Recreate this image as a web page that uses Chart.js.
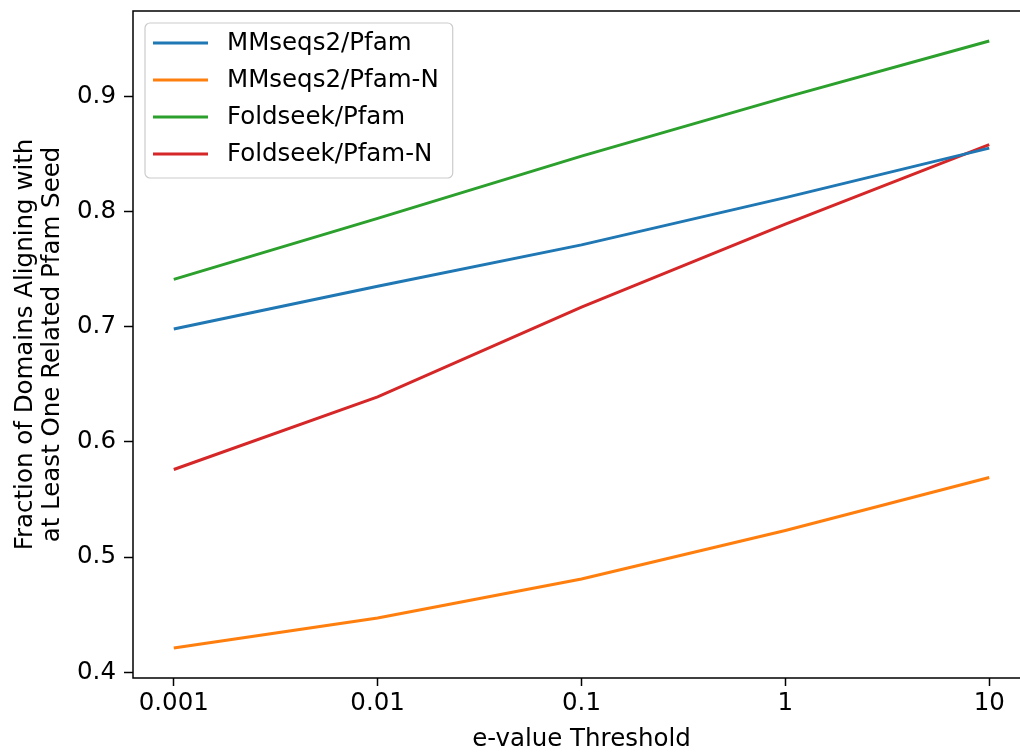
<!DOCTYPE html>
<html>
<head>
<meta charset="utf-8">
<script src="https://cdn.jsdelivr.net/npm/chart.js@4/dist/chart.umd.min.js"></script>
<style>
  html, body { margin: 0; padding: 0; background: #fff; }
  #wrap { width: 1020px; height: 754px; overflow: hidden; }
  canvas { display: block; }
</style>
</head>
<body>
<div id="wrap"><canvas id="myChart" width="1032" height="754"></canvas></div>
<script>
// e-value thresholds (x) and fraction of domains for each method
const thresholds = [0.001, 0.01, 0.1, 1, 10];
const tickLabels = ["0.001", "0.01", "0.1", "1", "10"];
const mmseqsPfam = [0.698, 0.735, 0.771, 0.812, 0.855];
const mmseqsPfamN = [0.421, 0.447, 0.481, 0.523, 0.569];
const foldseekPfam = [0.741, 0.794, 0.848, 0.899, 0.948];
const foldseekPfamN = [0.576, 0.639, 0.717, 0.789, 0.858];
const yTicks = [0.4, 0.5, 0.6, 0.7, 0.8, 0.9];

const font = "'DejaVu Sans', sans-serif";
const fontSize = 24.5;

// x is plotted as log10 of the threshold
const logX = thresholds.map((t) => Math.log10(t));

function series(label, values, color) {
  return {
    label: label,
    data: logX.map((x, i) => ({ x: x, y: values[i] })),
    borderColor: color,
    backgroundColor: color,
    borderWidth: 3,
    pointRadius: 0,
    tension: 0,
  };
}

// left, top and bottom spines (the right one is past the picture's edge)
const frame = {
  id: "frame",
  afterDatasetsDraw(chart) {
    const a = chart.chartArea;
    const ctx = chart.ctx;
    ctx.save();
    ctx.strokeStyle = "#000";
    ctx.lineWidth = 1.5;
    ctx.beginPath();
    ctx.moveTo(a.right, a.top);
    ctx.lineTo(a.left, a.top);
    ctx.lineTo(a.left, a.bottom);
    ctx.lineTo(a.right, a.bottom);
    ctx.stroke();
    ctx.restore();
  },
};

// legend drawn inside the plot, upper left
const innerLegend = {
  id: "innerLegend",
  afterDraw(chart) {
    const a = chart.chartArea;
    const ctx = chart.ctx;
    const sets = chart.data.datasets;
    ctx.save();
    ctx.font = fontSize + "px " + font;
    let maxW = 0;
    sets.forEach((d) => { maxW = Math.max(maxW, ctx.measureText(d.label).width); });
    const x = a.left + 12;
    const y = a.top + 12;
    const w = 82 + maxW + 14;
    const h = 155;
    ctx.beginPath();
    ctx.roundRect(x, y, w, h, 5);
    ctx.fillStyle = "rgba(255,255,255,0.8)";
    ctx.fill();
    ctx.strokeStyle = "#cccccc";
    ctx.lineWidth = 1.2;
    ctx.stroke();
    ctx.textBaseline = "middle";
    sets.forEach((d, i) => {
      const ly = y + 20 + i * 37;
      ctx.beginPath();
      ctx.moveTo(x + 8, ly);
      ctx.lineTo(x + 63, ly);
      ctx.strokeStyle = d.borderColor;
      ctx.lineWidth = 3;
      ctx.stroke();
      ctx.fillStyle = "#000";
      ctx.fillText(d.label, x + 82, ly + 1);
    });
    ctx.restore();
  },
};

const chart = new Chart(document.getElementById("myChart").getContext("2d"), {
  type: "line",
  data: {
    datasets: [
      series("MMseqs2/Pfam", mmseqsPfam, "#1f77b4"),
      series("MMseqs2/Pfam-N", mmseqsPfamN, "#ff7f0e"),
      series("Foldseek/Pfam", foldseekPfam, "#2ca02c"),
      series("Foldseek/Pfam-N", foldseekPfamN, "#d62728"),
    ],
  },
  options: {
    responsive: false,
    animation: false,
    devicePixelRatio: 1,
    layout: { padding: { top: 11, right: 2, left: 0, bottom: 0 } },
    plugins: { legend: { display: false }, tooltip: { enabled: false } },
    scales: {
      x: {
        type: "linear",
        min: -3.2,
        max: 1.2,
        afterBuildTicks: (s) => { s.ticks = logX.map((v) => ({ value: v })); },
        afterFit: (s) => { s.height = 76; s.paddingLeft = 0; s.paddingRight = 0; },
        grid: { drawOnChartArea: false, drawTicks: true, tickLength: 8, tickColor: "#000", tickWidth: 1.5 },
        border: { display: false },
        ticks: {
          color: "#000",
          font: { family: font, size: fontSize },
          padding: 3,
          maxRotation: 0,
          autoSkip: false,
          callback: (v) => {
            const i = logX.findIndex((x) => Math.abs(x - v) < 1e-9);
            return i >= 0 ? tickLabels[i] : "";
          },
        },
        title: {
          display: true,
          text: "e-value Threshold",
          color: "#000",
          font: { family: font, size: fontSize },
          padding: { top: 0, bottom: 0 },
        },
      },
      y: {
        type: "linear",
        min: 0.395,
        max: 0.974,
        afterBuildTicks: (s) => { s.ticks = yTicks.map((v) => ({ value: v })); },
        afterFit: (s) => { s.width = 133; s.paddingTop = 0; s.paddingBottom = 0; },
        grid: { drawOnChartArea: false, drawTicks: true, tickLength: 9, tickColor: "#000", tickWidth: 1.5 },
        border: { display: false },
        ticks: {
          color: "#000",
          font: { family: font, size: fontSize },
          padding: 8,
          callback: (v) => v.toFixed(1),
        },
        title: {
          display: true,
          text: ["Fraction of Domains Aligning with", "at Least One Related Pfam Seed"],
          color: "#000",
          font: { family: font, size: fontSize, lineHeight: "27px" },
          padding: { top: 12, bottom: 0 },
        },
      },
    },
  },
  plugins: [frame, innerLegend],
});
</script>
</body>
</html>
